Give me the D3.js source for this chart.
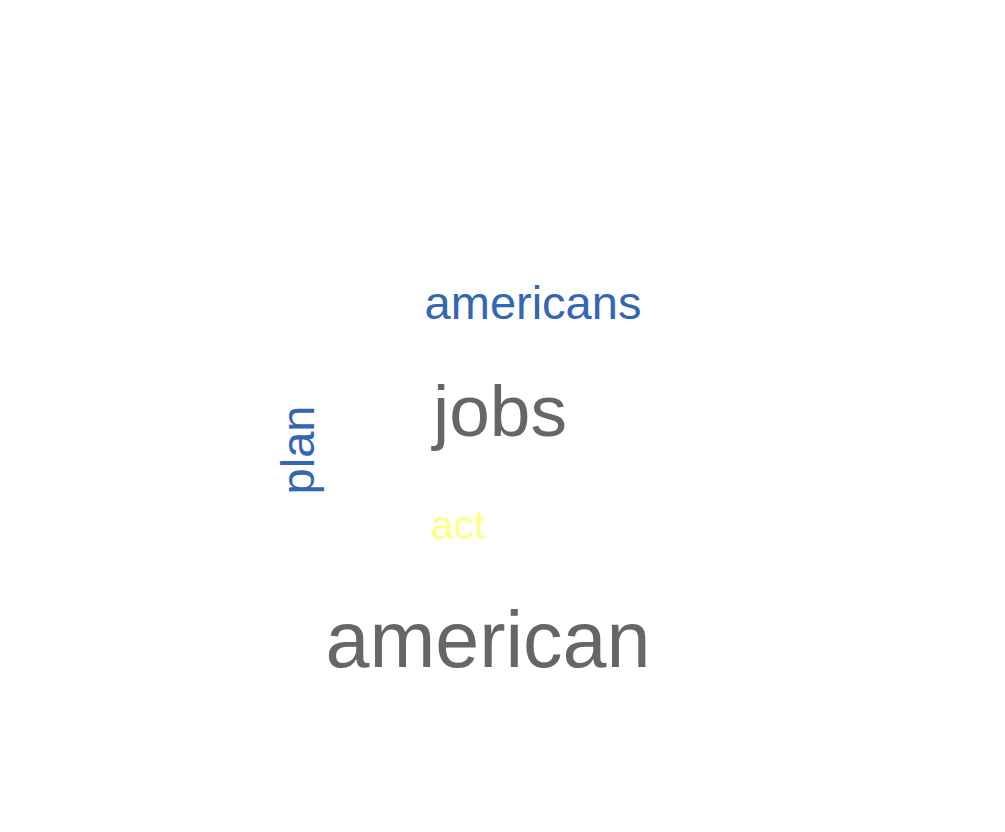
<!DOCTYPE html>
<html>
<head>
<meta charset="utf-8">
<script src="https://cdn.jsdelivr.net/npm/d3@7"></script>
<style>
  body { margin: 0; background: #fff; }
</style>
</head>
<body>
<svg id="cloud" width="1005" height="832"></svg>
<script>
// word frequencies
var words = ["american", "jobs", "americans", "plan", "act"];
var counts = [79, 73, 47, 47, 41];
var colors = ["#666666", "#666666", "#3366b4", "#3366b4", "#ffff88"];
var rotations = [0, 0, 0, -90, 0];
// layout slots (center x, baseline y)
var slotX = [488, 500, 533, 314, 458];
var slotY = [667, 436, 319, 450, 539];

var size = d3.scaleLinear().domain([0, 79]).range([0, 79]);

var svg = d3.select("#cloud");

svg.selectAll("text")
  .data(words)
  .enter()
  .append("text")
  .attr("text-anchor", "middle")
  .attr("font-family", "Liberation Sans, Arial, sans-serif")
  .attr("font-size", (d, i) => size(counts[i]) + "px")
  .attr("fill", (d, i) => colors[i])
  .attr("transform", (d, i) => `translate(${slotX[i]},${slotY[i]}) rotate(${rotations[i]})`)
  .text(d => d);
</script>
</body>
</html>
